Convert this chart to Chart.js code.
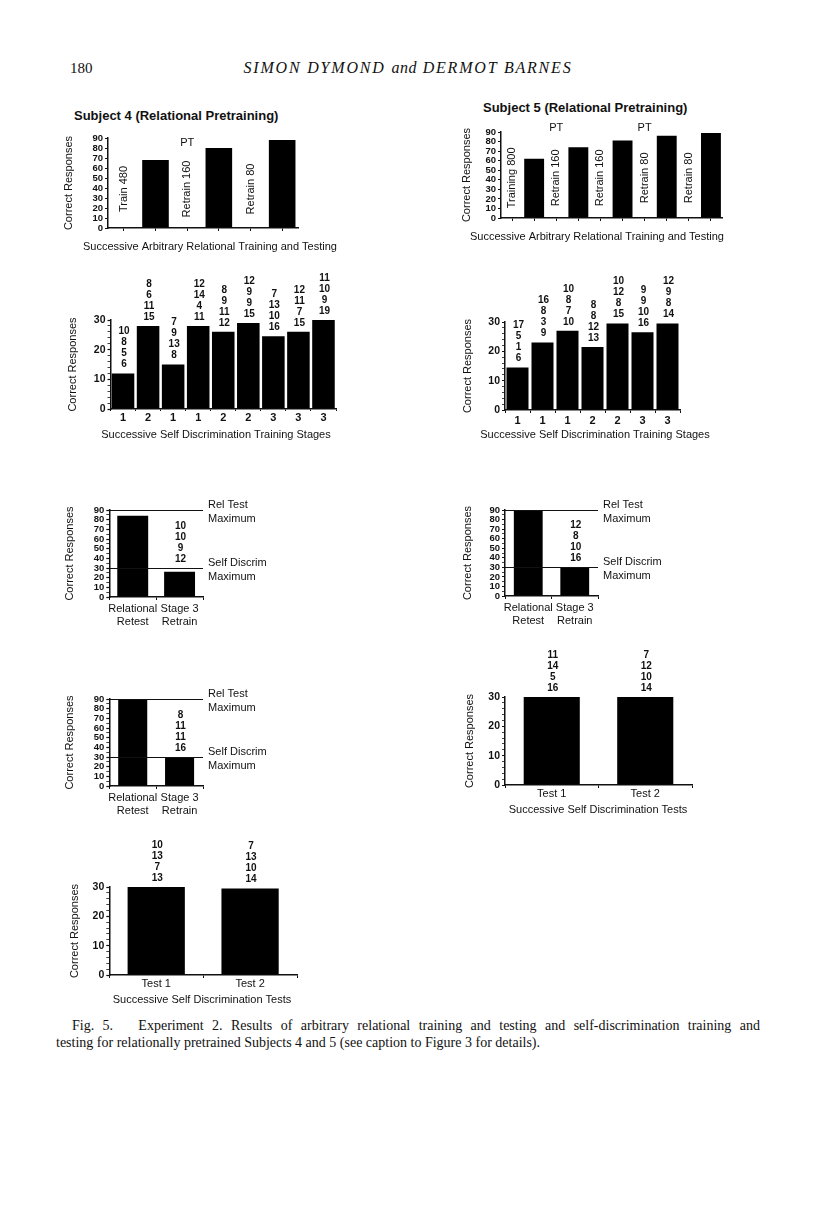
<!DOCTYPE html>
<html>
<head>
<meta charset="utf-8">
<script src="https://cdn.jsdelivr.net/npm/chart.js@4.4.1/dist/chart.umd.min.js"></script>
<style>
  body { margin: 0; background: #fff; }
  #page { position: relative; width: 816px; height: 1207px; overflow: hidden; background: #fff; }
  canvas { position: absolute; }
  .txt { position: absolute; white-space: nowrap; color: #111; }
  .subj { font: bold 13px "Liberation Sans", Arial, sans-serif; line-height: 16px; }
  .serif { font-family: "Liberation Serif", "Times New Roman", serif; }
</style>
</head>
<body>
<div id="page">
  <div class="txt serif" style="left:70px; top:60px; font-size:15px;">180</div>
  <div class="txt serif" style="left:0; width:816px; text-align:center; top:59px; font-size:16px; font-style:italic; letter-spacing:1.8px;">SIMON DYMOND <span style="letter-spacing:0.5px">and</span> DERMOT BARNES</div>

  <div class="txt subj" style="left:74px; top:108px;">Subject 4 (Relational Pretraining)</div>
  <div class="txt subj" style="left:483px; top:100px;">Subject 5 (Relational Pretraining)</div>

  <div class="txt serif" style="left:72px; top:1018px; width:688px; font-size:14px; text-align:justify; text-align-last:justify;">Fig. 5.&nbsp;&nbsp; Experiment 2. Results of arbitrary relational training and testing and self-discrimination training and</div>
  <div class="txt serif" style="left:56px; top:1035px; font-size:14px;">testing for relationally pretrained Subjects 4 and 5 (see caption to Figure 3 for details).</div>
</div>
<script>
// ---- data ----
// arbitrary relational training and testing (blank slots = training phases, printed vertically)
const s4RelLabels = ['Train 480', '', 'Retrain 160', '', 'Retrain 80', ''];
const s4RelValues = [null, 68, null, 80, null, 88];
const s4RelMarks = ['', '', 'PT', '', '', ''];

const s5RelLabels = ['Training 800', '', 'Retrain 160', '', 'Retrain 160', '', 'Retrain 80', '', 'Retrain 80', ''];
const s5RelValues = [null, 62, null, 74, null, 81, null, 86, null, 89];
const s5RelMarks = ['', '', 'PT', '', '', '', 'PT', '', '', ''];

// self discrimination training stages
const s4StageLabels = ['1', '2', '1', '1', '2', '2', '3', '3', '3'];
const s4StageValues = [12, 28, 15, 28, 26, 29, 24.5, 26, 30];
const s4StageCounts = [[10, 8, 5, 6], [8, 6, 11, 15], [7, 9, 13, 8], [12, 14, 4, 11], [8, 9, 11, 12],
                       [12, 9, 9, 15], [7, 13, 10, 16], [12, 11, 7, 15], [11, 10, 9, 19]];

const s5StageLabels = ['1', '1', '1', '2', '2', '3', '3'];
const s5StageValues = [14.5, 23, 27, 21.5, 29.5, 26.5, 29.5];
const s5StageCounts = [[17, 5, 1, 6], [16, 8, 3, 9], [10, 8, 7, 10], [8, 8, 12, 13],
                       [10, 12, 8, 15], [9, 9, 10, 16], [12, 9, 8, 14]];

// relational retest / stage 3 retrain
const retestLabels = [['Relational', 'Retest'], ['Stage 3', 'Retrain']];
const maxLevels = [90, 30];
const maxTexts = [['Rel Test', 'Maximum'], ['Self Discrim', 'Maximum']];
const s4RetestValues = [84, 26];
const s4RetestCounts = [null, [10, 10, 9, 12]];
const s4Retest2Values = [90, 30];
const s4Retest2Counts = [null, [8, 11, 11, 16]];
const s5RetestValues = [89, 30];
const s5RetestCounts = [null, [12, 8, 10, 16]];

// self discrimination tests
const testLabels = ['Test 1', 'Test 2'];
const s4TestValues = [30, 29.5];
const s4TestCounts = [[10, 13, 7, 13], [7, 13, 10, 14]];
const s5TestValues = [30, 30];
const s5TestCounts = [[11, 14, 5, 16], [7, 12, 10, 14]];

const yTitle = 'Correct Responses';
const relTitle = 'Successive Arbitrary Relational Training and Testing';
const stageTitle = 'Successive Self Discrimination Training Stages';
const testTitle = 'Successive Self Discrimination Tests';

// ---- drawing ----
const FONT = "'Liberation Sans', Arial, sans-serif";
const INK = '#111';
Chart.defaults.font.family = FONT;
Chart.defaults.color = INK;
Chart.defaults.animation = false;

const page = document.getElementById('page');

// axis titles, drawn at full width (the built-in ones get squeezed on these tiny charts)
function axisTitles(box, xText) {
    return {
        id: 'axisTitles',
        afterDraw(chart) {
            const { ctx, chartArea } = chart;
            const left = parseFloat(chart.canvas.style.left);
            const top = parseFloat(chart.canvas.style.top);
            ctx.save();
            ctx.fillStyle = INK;
            ctx.font = '11px ' + FONT;
            ctx.textAlign = 'center';
            ctx.textBaseline = 'middle';
            if (xText) ctx.fillText(xText, box.xTitleX - left, box.xTitleY - top);
            ctx.translate(box.yTitleX - left, (chartArea.top + chartArea.bottom) / 2);
            ctx.rotate(-Math.PI / 2);
            ctx.fillText(yTitle, 0, 0);
            ctx.restore();
        }
    };
}

// vertical phase names and PT marks for the relational charts
function phaseNotes(labels, values, marks, midValue, markValue) {
    return {
        id: 'phaseNotes',
        afterDatasetsDraw(chart) {
            const { ctx, scales: { x, y } } = chart;
            ctx.save();
            ctx.fillStyle = INK;
            ctx.textBaseline = 'middle';
            ctx.font = '11px ' + FONT;
            labels.forEach((lab, i) => {
                const cx = x.getPixelForValue(i);
                if (values[i] === null && lab) {
                    ctx.save();
                    ctx.translate(cx, y.getPixelForValue(midValue));
                    ctx.rotate(-Math.PI / 2);
                    ctx.textAlign = 'center';
                    ctx.fillText(lab, 0, 0);
                    ctx.restore();
                }
                if (marks[i]) {
                    ctx.textAlign = 'center';
                    ctx.fillText(marks[i], cx, y.getPixelForValue(markValue));
                }
            });
            ctx.restore();
        }
    };
}

// four stacked counts printed above a slot
function countNotes(counts, anchors) {
    return {
        id: 'countNotes',
        afterDatasetsDraw(chart) {
            const { ctx, scales: { x, y } } = chart;
            ctx.save();
            ctx.fillStyle = INK;
            ctx.font = 'bold 10px ' + FONT;
            ctx.textAlign = 'center';
            ctx.textBaseline = 'middle';
            counts.forEach((list, i) => {
                if (!list) return;
                const bottom = y.getPixelForValue(anchors[i]) - 9;
                list.forEach((n, k) => {
                    ctx.fillText(String(n), x.getPixelForValue(i) + 1, bottom - (list.length - 1 - k) * 11);
                });
            });
            ctx.restore();
        }
    };
}

// "Rel Test Maximum" / "Self Discrim Maximum" reference lines
function maxLines(levels, texts) {
    return {
        id: 'maxLines',
        afterDatasetsDraw(chart) {
            const { ctx, chartArea, scales: { y } } = chart;
            ctx.save();
            ctx.strokeStyle = INK;
            ctx.fillStyle = INK;
            ctx.lineWidth = 1.2;
            ctx.font = '11px ' + FONT;
            ctx.textAlign = 'left';
            ctx.textBaseline = 'middle';
            levels.forEach((v, k) => {
                const py = Math.round(y.getPixelForValue(v)) + 0.5;
                ctx.beginPath();
                ctx.moveTo(chartArea.left, py);
                ctx.lineTo(chartArea.right, py);
                ctx.stroke();
                ctx.fillText(texts[k][0], chartArea.right + 5, py - 6);
                ctx.fillText(texts[k][1], chartArea.right + 5, py + 8);
            });
            ctx.restore();
        }
    };
}

function barChart(id, box, labels, values, opt) {
    const left = box.yTitleX - 8;
    const top = box.yTop - box.padTop;
    const yAxisW = box.x0 - left;
    const xAxisH = box.xAxisH;
    const width = Math.round(yAxisW + (box.x1 - box.x0) + box.padRight);
    const height = Math.round(box.padTop + (box.y0 - box.yTop) + xAxisH);

    const cv = document.createElement('canvas');
    cv.id = id;
    cv.width = width;
    cv.height = height;
    cv.style.left = left + 'px';
    cv.style.top = top + 'px';
    cv.style.width = width + 'px';
    cv.style.height = height + 'px';
    page.appendChild(cv);

    return new Chart(cv.getContext('2d'), {
        type: 'bar',
        data: {
            labels: labels,
            datasets: [{
                data: values,
                backgroundColor: '#000',
                borderWidth: 0,
                barPercentage: opt.bar,
                categoryPercentage: 1
            }]
        },
        options: {
            responsive: false,
            animation: false,
            layout: { padding: { top: box.padTop, right: box.padRight, left: 0, bottom: 0 } },
            plugins: {
                legend: { display: false },
                tooltip: { enabled: false }
            },
            scales: {
                x: {
                    grid: {
                        drawOnChartArea: false,
                        tickLength: opt.xTickLen,
                        offset: opt.gridOffset,
                        color: INK
                    },
                    border: { color: INK, width: 1.5 },
                    ticks: {
                        autoSkip: false,
                        maxRotation: 0,
                        padding: opt.xTickPad,
                        color: INK,
                        font: { size: 11, weight: opt.xTickBold ? 'bold' : 'normal', lineHeight: 1.15 },
                        callback: opt.hideXLabels ? () => '' : function (v) { return this.getLabelForValue(v); }
                    },
                    afterFit: s => { s.height = xAxisH; }
                },
                y: {
                    min: 0,
                    max: opt.yMax,
                    grid: {
                        drawOnChartArea: false,
                        tickLength: 3,
                        color: INK,
                        tickWidth: c => (c.tick && c.tick.value % 10 === 0) ? 1.2 : 0.8
                    },
                    border: { color: INK, width: 1.5 },
                    ticks: {
                        stepSize: opt.yStep,
                        autoSkip: false,
                        padding: 2,
                        color: INK,
                        font: { size: opt.yTickSize, weight: 'bold' },
                        callback: v => (v % 10 === 0 ? v : '')
                    },
                    afterFit: s => { s.width = yAxisW; }
                }
            }
        },
        plugins: [axisTitles(box, opt.xTitle)].concat(opt.notes)
    });
}

// Subject 4: arbitrary relational training and testing
barChart('s4Rel',
    { x0: 108, x1: 298, yTop: 138, y0: 228, yTitleX: 69, xTitleX: 210, xTitleY: 247, padTop: 20, padRight: 60, xAxisH: 26 },
    s4RelLabels, s4RelValues,
    { bar: 0.84, yMax: 90, yStep: 10, yTickSize: 9.5, xTickLen: 3, xTickPad: 0, gridOffset: false,
      hideXLabels: true, xTitle: relTitle,
      notes: [phaseNotes(s4RelLabels, s4RelValues, s4RelMarks, 39, 85)] });

// Subject 5: arbitrary relational training and testing
barChart('s5Rel',
    { x0: 501, x1: 722, yTop: 132, y0: 218, yTitleX: 467, xTitleX: 597, xTitleY: 237, padTop: 20, padRight: 22, xAxisH: 26 },
    s5RelLabels, s5RelValues,
    { bar: 0.9, yMax: 90, yStep: 10, yTickSize: 9.5, xTickLen: 3, xTickPad: 0, gridOffset: false,
      hideXLabels: true, xTitle: relTitle,
      notes: [phaseNotes(s5RelLabels, s5RelValues, s5RelMarks, 42, 94)] });

// Subject 4: self discrimination training stages
barChart('s4Stage',
    { x0: 110.5, x1: 335.5, yTop: 320, y0: 409.3, yTitleX: 73, xTitleX: 216, xTitleY: 435, padTop: 55, padRight: 15, xAxisH: 32 },
    s4StageLabels, s4StageValues,
    { bar: 0.9, yMax: 30, yStep: 2, yTickSize: 10.5, xTickLen: 2, xTickPad: 1, gridOffset: true, xTickBold: true,
      xTitle: stageTitle,
      notes: [countNotes(s4StageCounts, s4StageValues)] });

// Subject 5: self discrimination training stages
barChart('s5Stage',
    { x0: 505, x1: 680, yTop: 322.3, y0: 410, yTitleX: 468, xTitleX: 595, xTitleY: 435, padTop: 60, padRight: 50, xAxisH: 32 },
    s5StageLabels, s5StageValues,
    { bar: 0.88, yMax: 30, yStep: 2, yTickSize: 10.5, xTickLen: 3, xTickPad: 2, gridOffset: true, xTickBold: true,
      xTitle: stageTitle,
      notes: [countNotes(s5StageCounts, s5StageValues)] });

// relational retest charts
barChart('s4Retest',
    { x0: 109.3, x1: 203.3, yTop: 510, y0: 596.7, yTitleX: 70, padTop: 15, padRight: 95, xAxisH: 36 },
    retestLabels, s4RetestValues,
    { bar: 0.66, yMax: 90, yStep: 5, yTickSize: 9.5, xTickLen: 3, xTickPad: 3, gridOffset: true,
      notes: [maxLines(maxLevels, maxTexts), countNotes(s4RetestCounts, [0, maxLevels[1]])] });

barChart('s5Retest',
    { x0: 505, x1: 598, yTop: 510, y0: 595.7, yTitleX: 468, padTop: 15, padRight: 95, xAxisH: 36 },
    retestLabels, s5RetestValues,
    { bar: 0.62, yMax: 90, yStep: 5, yTickSize: 9.5, xTickLen: 3, xTickPad: 3, gridOffset: true,
      notes: [maxLines(maxLevels, maxTexts), countNotes(s5RetestCounts, [0, maxLevels[1]])] });

barChart('s4Retest2',
    { x0: 109.3, x1: 203.3, yTop: 699.3, y0: 786.7, yTitleX: 70, padTop: 15, padRight: 95, xAxisH: 36 },
    retestLabels, s4Retest2Values,
    { bar: 0.62, yMax: 90, yStep: 5, yTickSize: 9.5, xTickLen: 3, xTickPad: 3, gridOffset: true,
      notes: [maxLines(maxLevels, maxTexts), countNotes(s4Retest2Counts, [0, maxLevels[1]])] });

// self discrimination tests
barChart('s5Tests',
    { x0: 505, x1: 692, yTop: 697.3, y0: 785, yTitleX: 470, xTitleX: 598, xTitleY: 810, padTop: 55, padRight: 15, xAxisH: 32 },
    testLabels, s5TestValues,
    { bar: 0.6, yMax: 30, yStep: 2, yTickSize: 10.5, xTickLen: 3, xTickPad: 0, gridOffset: true,
      xTitle: testTitle,
      notes: [countNotes(s5TestCounts, s5TestValues)] });

barChart('s4Tests',
    { x0: 109.3, x1: 297, yTop: 886.7, y0: 975, yTitleX: 75, xTitleX: 202, xTitleY: 1000, padTop: 55, padRight: 15, xAxisH: 32 },
    testLabels, s4TestValues,
    { bar: 0.61, yMax: 30, yStep: 2, yTickSize: 10.5, xTickLen: 3, xTickPad: 0, gridOffset: true,
      xTitle: testTitle,
      notes: [countNotes(s4TestCounts, s4TestValues)] });
</script>
</body>
</html>
